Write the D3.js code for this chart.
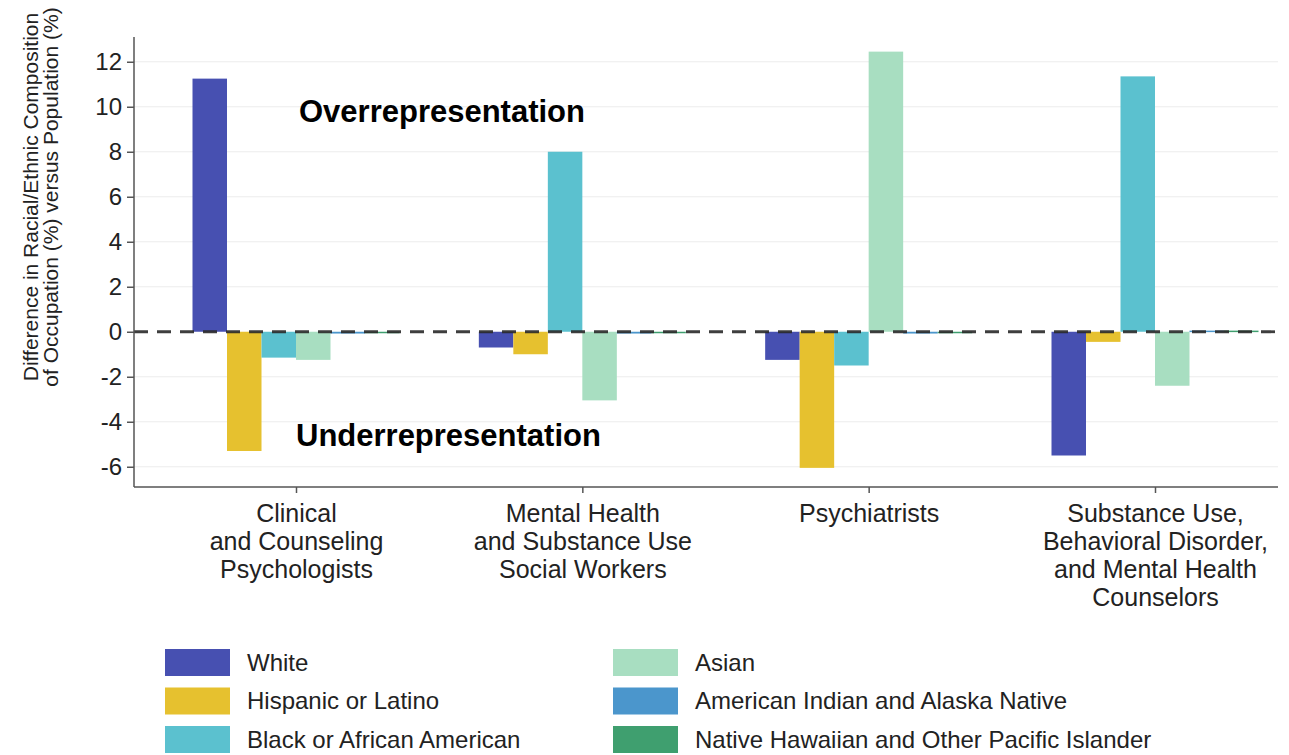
<!DOCTYPE html>
<html><head><meta charset="utf-8">
<script src="https://cdn.jsdelivr.net/npm/d3@7"></script>
<style>body{margin:0;background:#fff}svg{display:block;font-family:"Liberation Sans",Arial,sans-serif}</style>
</head><body><svg id="c" width="1289" height="755"></svg>
<script>
const categories = [
  ["Clinical","and Counseling","Psychologists"],
  ["Mental Health","and Substance Use","Social Workers"],
  ["Psychiatrists"],
  ["Substance Use,","Behavioral Disorder,","and Mental Health","Counselors"]
];
const seriesNames = ["White","Hispanic or Latino","Black or African American","Asian","American Indian and Alaska Native","Native Hawaiian and Other Pacific Islander"];
const seriesColors = ["#4750B1","#E6C12F","#5BC1CF","#A8DEC1","#4B96CC","#3F9F6F"];
const white    = [11.25, -0.7, -1.25, -5.5];
const hispanic = [-5.3, -1.0, -6.05, -0.45];
const black    = [-1.15, 8.0, -1.5, 11.35];
const asian    = [-1.25, -3.05, 12.45, -2.4];
const aian     = [-0.08, -0.08, -0.08, 0.05];
const nhpi     = [-0.05, -0.05, -0.05, 0.05];
const yTicks = [-6,-4,-2,0,2,4,6,8,10,12];
const yTitle = ["Difference in Racial/Ethnic Composition","of Occupation (%) versus Population (%)"];
const annotations = ["Overrepresentation","Underrepresentation"];

const values = [white, hispanic, black, asian, aian, nhpi];
const svg = d3.select("#c");
const xL = 134, xR = 1278;
const y = d3.scaleLinear().domain([-6.9, 13.1]).range([487, 37]);
const catIdx = categories.map((d,i)=>i);
const x0 = d3.scalePoint().domain(catIdx).range([296, 1155]);
const groupW = 207;
const x1 = d3.scaleBand().domain(d3.range(seriesNames.length)).range([-groupW/2, groupW/2]).padding(0);

// gridlines
svg.append("g").selectAll("line").data(yTicks.filter(t=>t!==0)).join("line")
  .attr("x1", xL).attr("x2", xR).attr("y1", d=>y(d)).attr("y2", d=>y(d))
  .attr("stroke", "#ececec").attr("stroke-width", 1.2);

// bars
const bars = [];
values.forEach((arr, s) => arr.forEach((v, c) => bars.push({s, c, v})));
svg.append("g").selectAll("rect").data(bars).join("rect")
  .attr("x", d => x0(d.c) + x1(d.s))
  .attr("width", x1.bandwidth())
  .attr("y", d => y(Math.max(0, d.v)))
  .attr("height", d => Math.max(1.5, Math.abs(y(d.v) - y(0))))
  .attr("fill", d => seriesColors[d.s]);

// zero dashed line
svg.append("line").attr("x1", xL).attr("x2", xR).attr("y1", y(0)).attr("y2", y(0))
  .attr("stroke", "#2a2a2a").attr("stroke-width", 2.8).attr("stroke-dasharray", "14,9").attr("opacity", 0.9);

// y axis
const yAxis = svg.append("g").attr("transform", `translate(${xL},0)`)
  .call(d3.axisLeft(y).tickValues(yTicks).tickSize(7).tickPadding(5).tickFormat(d => String(d)));
yAxis.select(".domain").attr("stroke", "#555").attr("stroke-width", 1.5).attr("d", `M0,${y(13.1)}V${y(-6.9)}`);
yAxis.selectAll(".tick line").attr("stroke", "#555").attr("stroke-width", 1.5);
yAxis.selectAll("text").attr("font-size", 24).attr("fill", "#222").attr("font-family", "Liberation Sans, Arial, sans-serif");

// x axis
const xAxis = svg.append("g").attr("transform", `translate(0,${y(-6.9)})`)
  .call(d3.axisBottom(x0).tickSize(6).tickFormat(""));
xAxis.select(".domain").attr("stroke", "#555").attr("stroke-width", 1.5).attr("d", `M${xL},0H${xR}`);
xAxis.selectAll(".tick line").attr("stroke", "#555").attr("stroke-width", 1.5);
xAxis.selectAll(".tick").each(function(d){
  const t = d3.select(this).append("text").attr("text-anchor","middle").attr("fill","#222")
    .attr("font-size", 25).attr("font-family","Liberation Sans, Arial, sans-serif");
  categories[d].forEach((line,i)=> t.append("tspan").attr("x",0).attr("y", 35 + i*28).text(line));
});

// y title
const yt = svg.append("text").attr("transform", "rotate(-90)")
  .attr("text-anchor","middle").attr("font-size", 21).attr("fill","#222");
yTitle.forEach((line,i)=> yt.append("tspan").attr("x", -197).attr("y", 38 + i*20).text(line));

// annotations
svg.append("text").attr("x", 299).attr("y", 122).attr("font-size", 31).attr("font-weight","bold").attr("fill","#000").text(annotations[0]);
svg.append("text").attr("x", 296).attr("y", 446).attr("font-size", 31).attr("font-weight","bold").attr("fill","#000").text(annotations[1]);

// legend
const lg = svg.append("g");
seriesNames.forEach((name, i) => {
  const col = Math.floor(i/3), row = i%3;
  const gx = col === 0 ? 165 : 613;
  const gy = 649 + row*38.5;
  lg.append("rect").attr("x", gx).attr("y", gy).attr("width", 65).attr("height", 27).attr("fill", seriesColors[i]);
  lg.append("text").attr("x", gx + 82).attr("y", gy + 13.5).attr("dy","0.35em").attr("font-size", 24).attr("fill","#222").text(name);
});
</script></body></html>
